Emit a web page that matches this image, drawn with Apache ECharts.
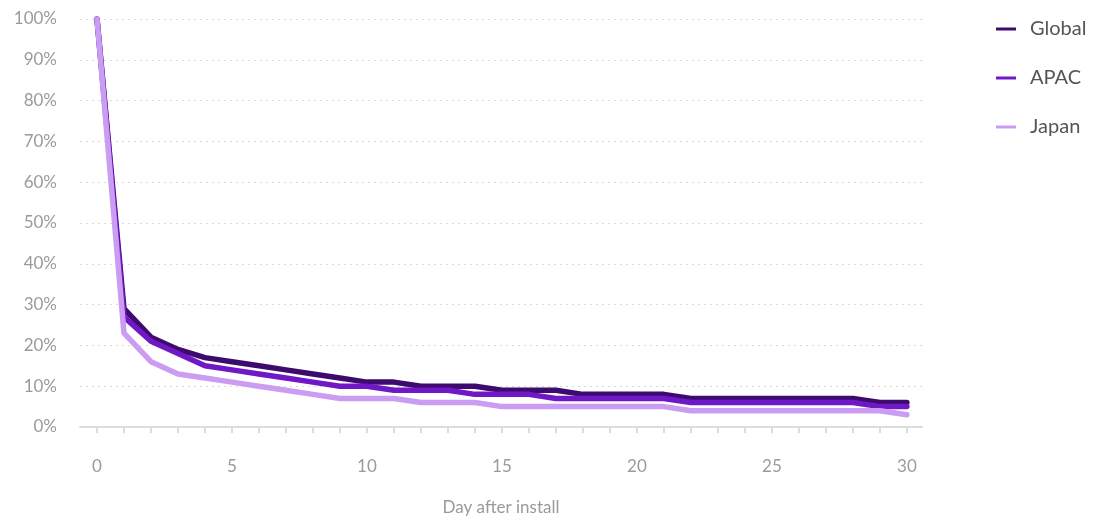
<!DOCTYPE html>
<html>
<head>
<meta charset="utf-8">
<script src="https://cdn.jsdelivr.net/npm/echarts@6/dist/echarts.min.js"></script>
<style>
  html, body { margin: 0; padding: 0; background: #fff; }
  #chart { width: 1100px; height: 517px; }
</style>
</head>
<body>
<div id="chart"></div>
<script>
// Retention by day after install (percent of installers still active)
const days = [0,1,2,3,4,5,6,7,8,9,10,11,12,13,14,15,16,17,18,19,20,21,22,23,24,25,26,27,28,29,30];
const globalRetention = [100,29,22,19,17,16,15,14,13,12,11,11,10,10,10,9,9,9,8,8,8,8,7,7,7,7,7,7,7,6,6];
const apacRetention   = [100,27,21,18,15,14,13,12,11,10,10,9,9,9,8,8,8,7,7,7,7,7,6,6,6,6,6,6,6,5,5];
const japanRetention  = [100,23,16,13,12,11,10,9,8,7,7,7,6,6,6,5,5,5,5,5,5,5,4,4,4,4,4,4,4,4,3];

const xLabelDays = [0,5,10,15,20,25,30];
const seriesNames = ['Global', 'APAC', 'Japan'];
const seriesColors = ['#3d0b6e', '#7118c6', '#cb9df2'];
const seriesValues = [globalRetention, apacRetention, japanRetention];

const FONT = 'Lato, "Noto Sans", sans-serif';

const chart = echarts.init(document.getElementById('chart'), null, { renderer: 'canvas' });

chart.setOption({
  animation: false,
  backgroundColor: '#ffffff',
  grid: {
    left: 80, right: 178, top: 19, bottom: 90,
    containLabel: false,
    outerBoundsMode: 'none'
  },
  legend: {
    orient: 'vertical',
    left: 991,
    top: 14,
    itemWidth: 20,
    itemHeight: 3,
    itemGap: 29,
    icon: 'rect',
    data: seriesNames,
    textStyle: {
      color: '#555555',
      fontFamily: FONT,
      fontSize: 20,
      lineHeight: 20,
      padding: [0, 0, 0, 9]
    }
  },
  xAxis: {
    type: 'value',
    min: -0.63,
    max: 30.56,
    name: 'Day after install',
    nameLocation: 'middle',
    nameGap: 72,
    nameTextStyle: { color: '#9a9a9a', fontFamily: FONT, fontSize: 17 },
    axisLine: { show: true, lineStyle: { color: '#dcdcdc', width: 2 } },
    axisTick: {
      show: true,
      length: 6,
      customValues: days,
      lineStyle: { color: '#dcdcdc', width: 2 }
    },
    axisLabel: {
      customValues: xLabelDays,
      margin: 31,
      color: '#9a9a9a',
      fontFamily: FONT,
      fontSize: 17
    },
    splitLine: { show: false }
  },
  yAxis: {
    type: 'value',
    min: 0,
    max: 100,
    interval: 10,
    axisLine: { show: false },
    axisTick: { show: false },
    axisLabel: {
      formatter: '{value}%',
      margin: 23,
      color: '#9a9a9a',
      fontFamily: FONT,
      fontSize: 17
    },
    splitLine: {
      show: true,
      lineStyle: { color: '#d9d9d9', width: 1, type: [2, 4] }
    }
  },
  series: seriesNames.map((name, k) => ({
    name: name,
    type: 'line',
    showSymbol: false,
    symbol: 'none',
    smooth: false,
    color: seriesColors[k],
    lineStyle: { color: seriesColors[k], width: 5.5, cap: 'round', join: 'round' },
    data: days.map((d, i) => [d, seriesValues[k][i]])
  }))
});
</script>
</body>
</html>
